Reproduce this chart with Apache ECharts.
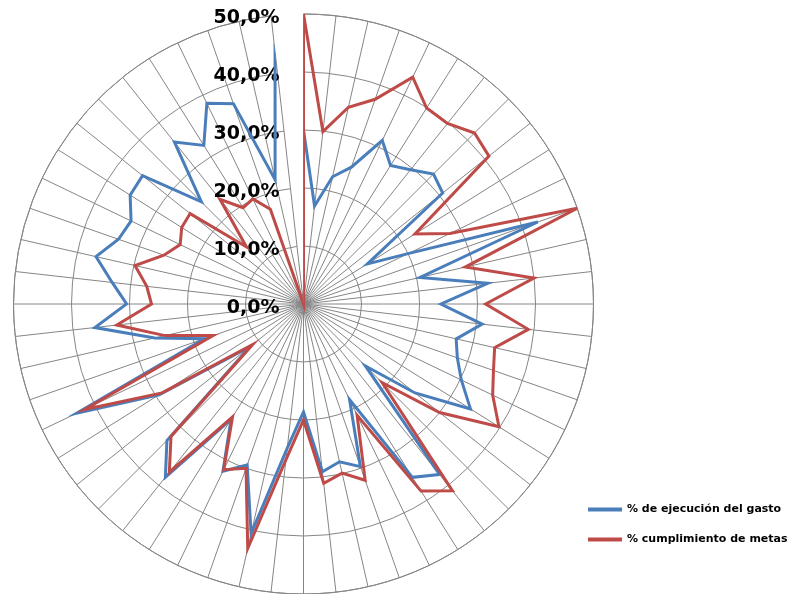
<!DOCTYPE html>
<html>
<head>
<meta charset="utf-8">
<script src="https://cdn.jsdelivr.net/npm/echarts@6/dist/echarts.min.js"></script>
<style>
html,body{margin:0;padding:0;background:#fff;}
#chart{width:794px;height:594px;}
</style>
</head>
<body>
<div id="chart"></div>
<script>
// 56 categories (spokes), clockwise from 12 o'clock
var categories = ["1","2","3","4","5","6","7","8","9","10","11","12","13","14","15","16","17","18","19","20","21","22","23","24","25","26","27","28","29","30","31","32","33","34","35","36","37","38","39","40","41","42","43","44","45","46","47","48","49","50","51","52","53","54","55","56"];

var seriesNames = ["% de ejecución del gasto", "% cumplimiento de metas"];

var ejecucionGasto = [0.300,0.170,0.225,0.250,0.313,0.282,0.296,0.317,0.307,0.130,0.200,0.428,0.206,0.320,0.237,0.310,0.270,0.281,0.302,0.340,0.246,0.151,0.376,0.353,0.183,0.297,0.279,0.291,0.186,0.250,0.406,0.294,0.320,0.235,0.382,0.333,0.118,0.294,0.434,0.181,0.263,0.362,0.305,0.332,0.367,0.338,0.330,0.353,0.355,0.249,0.357,0.323,0.384,0.366,0.220,0.438];

var cumplimientoMetas = [0.500,0.299,0.348,0.374,0.434,0.399,0.398,0.417,0.409,0.227,0.280,0.500,0.286,0.400,0.314,0.390,0.338,0.347,0.362,0.398,0.300,0.192,0.412,0.381,0.213,0.322,0.299,0.311,0.200,0.270,0.432,0.300,0.317,0.230,0.371,0.323,0.112,0.288,0.419,0.165,0.245,0.324,0.262,0.272,0.298,0.255,0.236,0.248,0.250,0.139,0.231,0.196,0.201,0.173,0.000,0.000];

var tickLabels = ["0,0%","10,0%","20,0%","30,0%","40,0%","50,0%"];

function closedLoop(vals) {
  var d = vals.map(function (v, i) { return [v, i]; });
  d.push([vals[0], 0]);
  return d;
}

var gridColor = '#868686';
var chart = echarts.init(document.getElementById('chart'), null, {renderer: 'canvas'});
chart.setOption({
  animation: false,
  backgroundColor: '#ffffff',
  polar: { center: [303.5, 304], radius: [0, 290] },
  angleAxis: {
    type: 'category',
    data: categories,
    startAngle: 90,
    clockwise: true,
    boundaryGap: false,
    axisLine: { show: true, lineStyle: { color: gridColor, width: 1 } },
    axisTick: { show: false, interval: 0 },
    axisLabel: { show: false, interval: 0 },
    splitLine: { show: true, interval: 0, lineStyle: { color: gridColor, width: 1 } }
  },
  radiusAxis: {
    type: 'value',
    min: 0,
    max: 0.5,
    interval: 0.1,
    axisLine: { show: false },
    axisTick: { show: false },
    splitLine: { show: true, lineStyle: { color: gridColor, width: 1 } },
    axisLabel: {
      show: true,
      margin: 24,
      color: '#000',
      fontFamily: 'DejaVu Sans',
      fontWeight: 'bold',
      fontSize: 19,
      verticalAlign: 'top',
      lineHeight: 8,
      formatter: function (v, idx) { return tickLabels[Math.round(v * 10)]; }
    }
  },
  legend: {
    orient: 'vertical',
    left: 583,
    top: 499,
    itemWidth: 34,
    itemHeight: 4,
    itemGap: 19,
    icon: 'rect',
    textStyle: { color: '#000', fontFamily: 'DejaVu Sans', fontWeight: 'bold', fontSize: 11 },
    data: seriesNames
  },
  series: [
    {
      name: seriesNames[0],
      type: 'line',
      coordinateSystem: 'polar',
      data: closedLoop(ejecucionGasto),
      symbol: 'none',
      color: '#4A7EBB',
      lineStyle: { color: '#4A7EBB', width: 3, join: 'miter' },
      z: 3
    },
    {
      name: seriesNames[1],
      type: 'line',
      coordinateSystem: 'polar',
      data: closedLoop(cumplimientoMetas),
      symbol: 'none',
      color: '#BE4B48',
      lineStyle: { color: '#BE4B48', width: 3, join: 'miter' },
      z: 4
    }
  ]
});
</script>
</body>
</html>
